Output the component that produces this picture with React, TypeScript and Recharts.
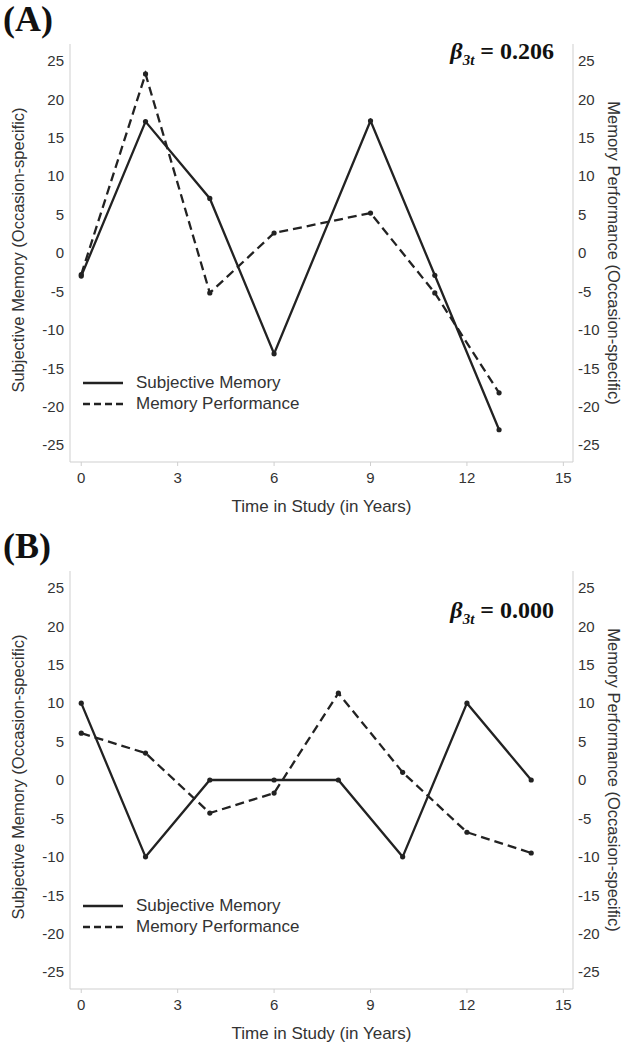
import React from 'react';
import { LineChart, Line, XAxis, YAxis } from 'recharts';

// Panel A – occasion-specific deviations
const yearsA = [0, 2, 4, 6, 9, 11, 13];
const subjectiveA = [-3, 17.1, 7.1, -13.1, 17.2, -2.9, -23];
const performanceA = [-2.8, 23.3, -5.2, 2.6, 5.2, -5.2, -18.2];

// Panel B
const yearsB = [0, 2, 4, 6, 8, 10, 12, 14];
const subjectiveB = [10, -10, 0, 0, 0, -10, 10, 0];
const performanceB = [6.1, 3.5, -4.3, -1.7, 11.3, 1, -6.8, -9.5];

const xTicks = [0, 3, 6, 9, 12, 15];
const yTicks = [-25, -20, -15, -10, -5, 0, 5, 10, 15, 20, 25];

const SANS = '"Liberation Sans", Arial, sans-serif';
const SERIF = '"Liberation Serif", "Times New Roman", serif';
const INK = '#222';
const AXIS = '#cfcfcf';
const TEXT = '#333';

const legendItems = [
  { name: 'Subjective Memory', dash: undefined },
  { name: 'Memory Performance', dash: '7 4' },
];

const LegendBox = () => (
  <div style={{ fontFamily: SANS, fontSize: 17, color: TEXT }}>
    {legendItems.map(item => (
      <div key={item.name} style={{ display: 'flex', alignItems: 'center', height: 21 }}>
        <svg width={40} height={6} style={{ marginRight: 13 }}>
          <line x1={0} y1={3} x2={40} y2={3} stroke={INK} strokeWidth={2.6} strokeDasharray={item.dash} />
        </svg>
        <span>{item.name}</span>
      </div>
    ))}
  </div>
);

interface PanelProps {
  tag: string;
  beta: string;
  years: number[];
  subjective: number[];
  performance: number[];
  top: number;
  legendTop: number;
  betaTop: number;
}

const Panel: React.FC<PanelProps> = ({ tag, beta, years, subjective, performance, top, legendTop, betaTop }) => {
  const data = years.map((t, i) => ({ t, subjective: subjective[i], performance: performance[i] }));

  return (
    <div style={{ position: 'absolute', left: 0, top, width: 630, height: 520 }}>
      <LineChart width={630} height={520} data={data} margin={{ top: 44, right: 0, bottom: 0, left: 0 }}>
        <XAxis
          dataKey="t"
          type="number"
          domain={[-0.35, 15.3]}
          ticks={xTicks}
          allowDataOverflow
          height={58}
          stroke={AXIS}
          tickSize={4}
          tickMargin={6}
          tick={{ fill: TEXT, fontSize: 15, fontFamily: SANS }}
        />
        <YAxis
          yAxisId="left"
          domain={[-27.2, 27.2]}
          ticks={yTicks}
          allowDataOverflow
          width={70}
          stroke={AXIS}
          tickLine={false}
          tickSize={0}
          tickMargin={6}
          tick={{ fill: TEXT, fontSize: 15, fontFamily: SANS }}
        />
        <YAxis
          yAxisId="right"
          orientation="right"
          domain={[-27.2, 27.2]}
          ticks={yTicks}
          allowDataOverflow
          width={57}
          stroke={AXIS}
          tickLine={false}
          tickSize={0}
          tickMargin={5}
          tick={{ fill: TEXT, fontSize: 15, fontFamily: SANS, textAnchor: 'start' }}
        />
        <Line
          yAxisId="left"
          dataKey="subjective"
          stroke={INK}
          strokeWidth={2.3}
          dot={{ r: 2.6, fill: INK, stroke: INK, strokeWidth: 0 }}
          isAnimationActive={false}
        />
        <Line
          yAxisId="right"
          dataKey="performance"
          stroke={INK}
          strokeWidth={2.3}
          strokeDasharray="9 5"
          dot={{ r: 2.6, fill: INK, stroke: INK, strokeWidth: 0, strokeDasharray: '' }}
          isAnimationActive={false}
        />
      </LineChart>

      <div style={{ position: 'absolute', left: 83, top: legendTop }}>
        <LegendBox />
      </div>
      <div
        style={{
          position: 'absolute',
          left: 3,
          top: 1,
          lineHeight: '36px',
          fontFamily: SERIF,
          fontWeight: 'bold',
          fontSize: 36,
          color: '#111',
        }}
      >
        {tag}
      </div>
      <div
        style={{
          position: 'absolute',
          right: 630 - 554,
          top: betaTop,
          fontFamily: SERIF,
          fontWeight: 'bold',
          fontSize: 24,
          color: '#111',
          whiteSpace: 'nowrap',
        }}
      >
        <i>β</i>
        <sub style={{ fontSize: 15, fontStyle: 'italic' }}>3t</sub> = {beta}
      </div>
      <div
        style={{
          position: 'absolute',
          left: 70,
          width: 503,
          top: 497,
          textAlign: 'center',
          fontFamily: SANS,
          fontSize: 17,
          color: TEXT,
        }}
      >
        Time in Study (in Years)
      </div>
      <div
        style={{
          position: 'absolute',
          left: 18,
          top: 250,
          transform: 'translate(-50%, -50%) rotate(-90deg)',
          fontFamily: SANS,
          fontSize: 16.5,
          color: TEXT,
          whiteSpace: 'nowrap',
        }}
      >
        Subjective Memory (Occasion-specific)
      </div>
      <div
        style={{
          position: 'absolute',
          left: 613,
          top: 253,
          transform: 'translate(-50%, -50%) rotate(90deg)',
          fontFamily: SANS,
          fontSize: 16.5,
          color: TEXT,
          whiteSpace: 'nowrap',
        }}
      >
        Memory Performance (Occasion-specific)
      </div>
    </div>
  );
};

export default function App() {
  return (
    <div style={{ position: 'absolute', left: 0, top: 0, width: 630, height: 1050, background: '#fff', overflow: 'hidden' }}>
      <Panel
        tag="(A)"
        beta="0.206"
        years={yearsA}
        subjective={subjectiveA}
        performance={performanceA}
        top={0}
        legendTop={372}
        betaTop={38}
      />
      <Panel
        tag="(B)"
        beta="0.000"
        years={yearsB}
        subjective={subjectiveB}
        performance={performanceB}
        top={527}
        legendTop={368}
        betaTop={70}
      />
    </div>
  );
}
